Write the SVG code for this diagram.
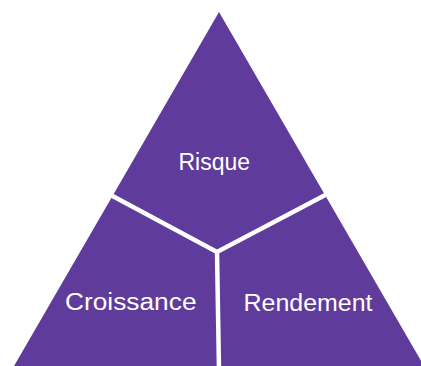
<svg xmlns="http://www.w3.org/2000/svg" width="421" height="366" viewBox="0 0 421 366">
<style>
.seg{fill:#5F3B9B}
.lbl{fill:#ffffff;font-family:"Liberation Sans",Arial,sans-serif;font-size:23px}
.sep{stroke:#ffffff;stroke-width:4.5;fill:none;stroke-linejoin:miter}
</style>
<rect width="421" height="366" fill="#ffffff"/>
<g id="risque">
<polygon class="seg" points="219,12 112.5,196 217,252 325,195"/>
<text class="lbl" x="178.5" y="170" textLength="71.5" lengthAdjust="spacingAndGlyphs">Risque</text>
</g>
<g id="croissance">
<polygon class="seg" points="112.5,196 217,252 219,370 11.7,370"/>
<text class="lbl" x="65" y="310" textLength="131.5" lengthAdjust="spacingAndGlyphs">Croissance</text>
</g>
<g id="rendement">
<polygon class="seg" points="325,195 217,252 219,370 426.3,370"/>
<text class="lbl" x="243.5" y="310.5" textLength="129" lengthAdjust="spacingAndGlyphs">Rendement</text>
</g>
<g id="connectors">
<polyline class="sep" points="106,192.5 217,252 331,192"/>
<line class="sep" x1="217" y1="252" x2="219" y2="370"/>
</g>
</svg>
